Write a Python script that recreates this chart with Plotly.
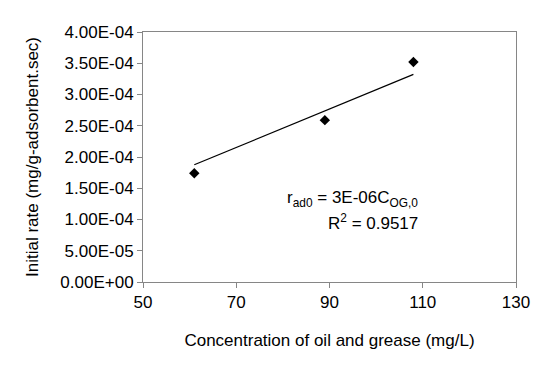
import plotly.graph_objects as go
import numpy as np

# Data
conc = [61, 89, 108]                       # mg/L
rate = [1.74e-4, 2.59e-4, 3.52e-4]         # mg/g-adsorbent.sec
y_tick_vals = [0, 5e-5, 1e-4, 1.5e-4, 2e-4, 2.5e-4, 3e-4, 3.5e-4, 4e-4]
y_tick_text = ["0.00E+00", "5.00E-05", "1.00E-04", "1.50E-04", "2.00E-04",
               "2.50E-04", "3.00E-04", "3.50E-04", "4.00E-04"]
x_tick_vals = [50, 70, 90, 110, 130]

# Linear trendline through origin (least squares)
x_arr = np.array(conc, dtype=float)
y_arr = np.array(rate, dtype=float)
slope = float((x_arr * y_arr).sum() / (x_arr ** 2).sum())
trend_x = [min(conc), max(conc)]
trend_y = [slope * v for v in trend_x]

FONT = "Liberation Sans, Arial, sans-serif"
GRAY = "#868686"

fig = go.Figure()
fig.add_trace(go.Scatter(x=trend_x, y=trend_y, mode="lines",
                         line=dict(color="black", width=1.2),
                         showlegend=False, hoverinfo="skip"))
fig.add_trace(go.Scatter(x=conc, y=rate, mode="markers",
                         marker=dict(symbol="diamond", size=8, color="black"),
                         showlegend=False))

fig.add_annotation(x=0.743, y=0.282, xref="paper", yref="paper",
                   text="r<sub>ad0</sub> = 3E-06C<sub>OG,0</sub>",
                   showarrow=False, font=dict(family=FONT, size=17, color="black"))
fig.add_annotation(x=0.743, y=0.19, xref="paper", yref="paper",
                   text="R<sup>2</sup> = 0.9517",
                   showarrow=False, font=dict(family=FONT, size=17, color="black"))

# body has an 8px default margin in the page; compensate so the plot sits where the reference has it
fig.update_layout(
    width=547, height=366,
    margin=dict(l=135, r=39, t=24, b=92),
    paper_bgcolor="white", plot_bgcolor="white",
    font=dict(family=FONT, size=17, color="black"),
    xaxis=dict(range=[50, 130], tickvals=x_tick_vals, showgrid=False, zeroline=False,
               showline=True, linecolor=GRAY, linewidth=1, mirror=True,
               ticks="outside", ticklen=5, tickcolor=GRAY,
               title=dict(text="Concentration of oil and grease (mg/L)", standoff=22,
                          font=dict(family=FONT, size=17, color="black")),
               tickfont=dict(family=FONT, size=17, color="black")),
    yaxis=dict(range=[0, 4e-4], tickvals=y_tick_vals, ticktext=y_tick_text,
               showgrid=False, zeroline=False,
               showline=True, linecolor=GRAY, linewidth=1, mirror=True,
               ticks="outside", ticklen=5, tickcolor=GRAY,
               title=dict(text="Initial rate (mg/g-adsorbent.sec)", standoff=17,
                          font=dict(family=FONT, size=17, color="black")),
               tickfont=dict(family=FONT, size=17, color="black")),
)

fig.write_html("out.html")
